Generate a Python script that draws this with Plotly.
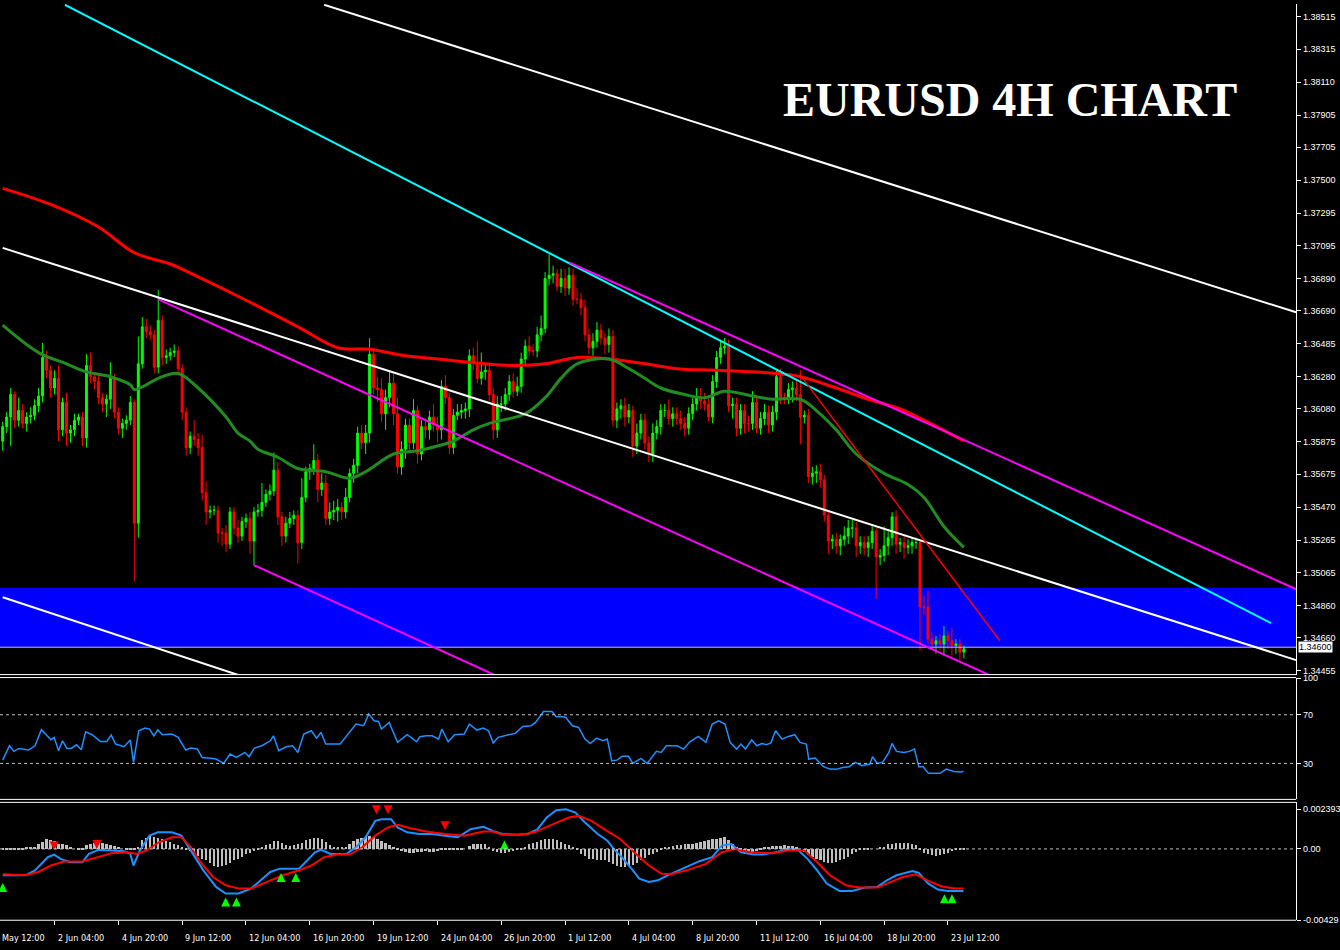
import plotly.graph_objects as go

# ---- candles (EURUSD H4), bar index 0..241 ----
open0 = 1.3588
closes = [
    1.3597, 1.3603, 1.3617, 1.3601, 1.3607, 1.3599, 1.3603, 1.3604, 1.3610, 1.3616,
    1.3640, 1.3632, 1.3621, 1.3627, 1.3595, 1.3612, 1.3593, 1.3595, 1.3601, 1.3603,
    1.3590, 1.3635, 1.3628, 1.3625, 1.3615, 1.3611, 1.3614, 1.3627, 1.3606, 1.3596,
    1.3599, 1.3601, 1.3612, 1.3537, 1.3636, 1.3659, 1.3656, 1.3654, 1.3634, 1.3663,
    1.3640, 1.3641, 1.3643, 1.3644, 1.3633, 1.3606, 1.3584, 1.3591, 1.3589, 1.3584,
    1.3556, 1.3544, 1.3545, 1.3545, 1.3531, 1.3531, 1.3524, 1.3544, 1.3534, 1.3529,
    1.3538, 1.3540,
    1.3526, 1.3544, 1.3545, 1.3550, 1.3555, 1.3557, 1.3570, 1.3541, 1.3529, 1.3537,
    1.3540, 1.3542, 1.3525, 1.3553, 1.3569, 1.3571, 1.3576, 1.3558, 1.3562, 1.3540,
    1.3544, 1.3545, 1.3547, 1.3544, 1.3553, 1.3568, 1.3573, 1.3593, 1.3587, 1.3593,
    1.3642, 1.3621, 1.3620, 1.3605, 1.3615, 1.3624, 1.3605, 1.3572, 1.3583, 1.3598,
    1.3587, 1.3607, 1.3580, 1.3597, 1.3595, 1.3603, 1.3598, 1.3595, 1.3622, 1.3615,
    1.3584, 1.3604, 1.3606, 1.3607, 1.3608, 1.3641, 1.3636, 1.3627, 1.3631, 1.3632,
    1.3617, 1.3595, 1.3611, 1.3611, 1.3617, 1.3625, 1.3619, 1.3622, 1.3639, 1.3647,
    1.3644, 1.3644, 1.3654, 1.3658, 1.3689, 1.3691, 1.3692, 1.3684, 1.3689, 1.3683,
    1.3691, 1.3676, 1.3676, 1.3671, 1.3654, 1.3646, 1.3650, 1.3657, 1.3652, 1.3648,
    1.3653, 1.3601, 1.3608, 1.3610, 1.3603, 1.3607, 1.3585, 1.3593, 1.3601, 1.3587,
    1.3580, 1.3593, 1.3597, 1.3607, 1.3607, 1.3602, 1.3605, 1.3602, 1.3599, 1.3596,
    1.3605, 1.3611, 1.3615, 1.3613, 1.3611, 1.3603, 1.3625, 1.3640, 1.3646, 1.3647,
    1.3610, 1.3611, 1.3596, 1.3607, 1.3599, 1.3599, 1.3612, 1.3596, 1.3602, 1.3606,
    1.3598, 1.3606, 1.3628, 1.3615, 1.3615, 1.3620, 1.3621, 1.3617, 1.3603, 1.3604,
    1.3566, 1.3568, 1.3569, 1.3564, 1.3542, 1.3526, 1.3527, 1.3523, 1.3527, 1.3529,
    1.3534, 1.3534, 1.3523, 1.3525, 1.3522, 1.3525, 1.3532, 1.3516, 1.3517, 1.3523,
    1.3528, 1.3541, 1.3524, 1.3525, 1.3522, 1.3523, 1.3525, 1.3525, 1.3485, 1.3485,
    1.3465, 1.3462, 1.3464, 1.3462, 1.3467, 1.3464, 1.3461, 1.3462, 1.3457, 1.3459,
]
# wick lengths in pips above / below the body
upper_wick = [
    3, 3, 4, 2, 8, 4, 3, 5, 4, 5, 9, 4, 3, 5, 8, 3, 6, 3, 4, 2,
    3, 7, 8, 3, 4, 3, 3, 10, 3, 3, 3, 3, 4, 2, 17, 6, 5, 4, 3, 19,
    3, 4, 3, 4, 3, 3, 3, 3, 10, 4, 8, 7, 3, 3, 3, 3, 5, 3, 3, 5,
    3, 3, 4, 3, 4, 12, 3, 4, 11, 5, 3, 4, 4, 3, 3, 12, 3, 3, 10, 4,
    6, 5, 6, 6, 5, 3, 6, 3, 4, 4, 5, 5, 10, 4, 7, 7, 5, 8, 6, 10,
    5, 4, 4, 7, 3, 4, 5, 4, 8, 5, 4, 7, 3, 4, 5, 4, 4, 4, 5, 14,
    12, 4, 5, 4, 5, 5, 4, 4, 5, 6, 4, 4, 6, 4, 5, 8, 4, 13, 5, 3,
    6, 6, 5, 4, 7, 4, 5, 4, 5, 5, 4, 3, 5, 4, 4, 4, 5, 4, 3, 6,
    4, 4, 4, 6, 4, 4, 4, 7, 4, 4, 5, 4, 4, 4, 6, 6, 5, 4, 4, 4,
    5, 5, 4, 4, 4, 4, 4, 5, 7, 4, 4, 5, 4, 4, 4, 5, 3, 4, 4, 5,
    15, 3, 4, 4, 4, 5, 3, 3, 3, 4, 3, 6, 5, 5, 4, 4, 4, 4, 4, 3,
    4, 12, 4, 3, 4, 3, 5, 4, 3, 3, 2, 7, 10, 4, 3, 4, 6, 3, 8, 3,
    3, 2,
]
lower_wick = [
    6, 4, 18, 5, 4, 3, 5, 4, 3, 4, 4, 5, 6, 4, 7, 4, 8, 6, 4, 3,
    5, 6, 4, 5, 4, 5, 8, 6, 4, 4, 6, 4, 3, 36, 9, 3, 4, 3, 4, 4,
    5, 4, 3, 3, 4, 5, 5, 4, 4, 5, 5, 8, 4, 3, 6, 8, 5, 3, 4, 4,
    3, 4, 8, 15, 3, 4, 3, 4, 3, 5, 6, 4, 3, 4, 13, 4, 3, 5, 4, 8,
    4, 4, 4, 5, 7, 5, 4, 3, 6, 5, 4, 7, 6, 4, 8, 5, 10, 6, 7, 4,
    5, 6, 5, 4, 6, 4, 5, 6, 4, 8, 6, 4, 4, 4, 3, 4, 5, 5, 4, 3,
    4, 5, 4, 6, 5, 5, 4, 4, 4, 3, 4, 4, 3, 3, 4, 4, 3, 4, 5, 3,
    4, 5, 4, 4, 3, 5, 4, 4, 5, 4, 4, 6, 5, 4, 5, 6, 6, 4, 7, 5,
    4, 4, 5, 5, 4, 5, 4, 4, 5, 4, 4, 5, 4, 4, 4, 5, 4, 3, 4, 4,
    4, 4, 4, 8, 5, 4, 6, 5, 4, 3, 4, 4, 5, 4, 5, 4, 4, 4, 8, 4,
    17, 4, 4, 5, 6, 5, 4, 8, 5, 5, 6, 4, 5, 6, 7, 5, 5, 6, 4, 26,
    5, 4, 6, 5, 6, 5, 7, 4, 5, 4, 27, 5, 3, 4, 6, 4, 7, 5, 6, 5,
    5, 4,
]

# ---- moving averages (sampled at bar index) ----
ma_red_idx = [0, 12, 24, 33, 42, 49, 59, 74, 84, 92, 101, 109, 121, 128, 136, 144,
              152, 161, 169, 179, 194, 200, 209, 217, 225, 231, 241]
ma_red = [1.3745, 1.3735, 1.3721, 1.3705, 1.3698, 1.3690, 1.3678, 1.3659, 1.3646,
          1.3645, 1.3641, 1.3639, 1.3636, 1.3635, 1.3636, 1.3640, 1.3639, 1.3636,
          1.3633, 1.3632, 1.3630, 1.3628, 1.3621, 1.3614, 1.3608, 1.3601, 1.3588]
ma_green_idx = [0, 9, 16, 21, 27, 32, 33, 36, 39, 44, 49, 56, 59, 62, 64, 69, 74, 81,
                87, 91, 98, 104, 109, 113, 118, 122, 131, 136, 140, 144, 152, 157,
                161, 165, 171, 176, 181, 188, 193, 200, 204, 209, 214, 221, 227,
                231, 236, 241]
ma_green = [1.3660, 1.3643, 1.3636, 1.3631, 1.3628, 1.3623, 1.3620, 1.3623, 1.3627,
            1.3630, 1.3621, 1.3603, 1.3593, 1.3588, 1.3583, 1.3578, 1.3571, 1.3569,
            1.3565, 1.3569, 1.3580, 1.3582, 1.3585, 1.3588, 1.3595, 1.3599, 1.3605,
            1.3615, 1.3627, 1.3636, 1.3639, 1.3633, 1.3627, 1.3621, 1.3617, 1.3615,
            1.3619, 1.3616, 1.3614, 1.3614, 1.3607, 1.3595, 1.3580, 1.3568, 1.3561,
            1.3553, 1.3535, 1.3522]

# ---- trend lines: (bar1, price1, bar2, price2, colour, width) ----
trend_lines = [
    (80.6, 1.38590, 324.3, 1.36680, "white", 2),
    (15.6, 1.38590, 318.0, 1.34750, "#00ffff", 2),
    (142.0, 1.36990, 324.3, 1.34960, "#ff00ff", 2),
    (0.0, 1.37080, 324.3, 1.34520, "white", 2),
    (39.0, 1.36760, 248.0, 1.34420, "#ff00ff", 2),
    (63.0, 1.35110, 124.0, 1.34420, "#ff00ff", 2),
    (0.0, 1.34910, 60.0, 1.34420, "white", 2),
    (200.6, 1.36270, 250.0, 1.34640, "#ff0000", 1.5),
]
zone_top, zone_bottom = 1.3497, 1.3460
bid_price = 1.34600

main_ticks = [1.38515, 1.38315, 1.38110, 1.37905, 1.37705, 1.37500, 1.37295, 1.37095,
              1.36890, 1.36690, 1.36485, 1.36280, 1.36080, 1.35875, 1.35675, 1.35470,
              1.35265, 1.35065, 1.34860, 1.34660, 1.34455]

# ---- RSI ----
rsi_x = [0, 1.7, 2.8, 4.1, 6.5, 8.1, 9.7, 12.1, 12.9, 14, 15, 16.1, 17.2, 18.5, 19.7,
         20.8, 22.4, 24.5, 26.1, 27.2, 28.3, 30.4, 32, 32.8, 34.1, 35.7, 36.8, 37.9,
         38.9, 40, 42.4, 44, 45.9, 47.2, 48.8, 50, 51.6, 53.5, 55.4, 57, 58.6, 60.7,
         61.8, 63.1, 65, 67.1, 67.9, 69.2, 71.1, 72.7, 74, 75.5, 77.4, 78.7, 79.8, 81,
         84.6, 86.7, 88.6, 90.5, 91.8, 93.1, 94.2, 95, 96.9, 99, 100.1, 101.4, 102.6,
         103.8, 104.6, 106.2, 107.7, 109.3, 110.1, 111.7, 113.3, 115.7, 117, 118.9,
         120.5, 121.8, 123, 124.2, 126.9, 128.5, 130.4, 132.5, 133.6, 135.6, 137.7,
         138.8, 140.4, 141.2, 142.8, 144.4, 146, 147.3, 148.9, 150.5, 151.6, 152.7,
         154, 155.3, 156.9, 158, 160, 161.6, 163.9, 165.1, 166.4, 169.1, 170.7, 172.3,
         174.4, 176.3, 177.9, 179.5, 181.1, 182.4, 184, 185.1, 186.2, 187.8, 189.1,
         190.3, 191.5, 192.6, 193.8, 195.4, 197, 198.6, 199.9, 201.5, 202.1, 203.7,
         205.8, 207.4, 209, 210.6, 212.2, 213.8, 215.4, 217.4, 218.1, 219.3, 220.6,
         222.2, 223, 224.1, 226, 227.3, 228.6, 229.7, 230.8, 232.1, 235, 236.6, 238.5,
         240.4, 240.9]
rsi_y = [32.7, 44.5, 39.9, 42.3, 41.0, 44.5, 57.7, 49.5, 51.4, 40.4, 48.6, 42.3, 42.3,
         45.3, 41.2, 56.0, 53.6, 48.1, 48.1, 53.3, 45.9, 43.7, 49.2, 30.8, 56.9, 59.0,
         58.2, 52.7, 57.7, 53.6, 54.1, 51.4, 41.0, 42.6, 41.8, 34.9, 34.4, 33.6, 30.0,
         37.7, 35.0, 39.0, 35.5, 42.6, 44.5, 48.6, 52.7, 40.4, 43.7, 44.5, 39.0, 54.1,
         56.9, 50.8, 55.5, 45.9, 45.9, 54.7, 62.3, 61.0, 70.6, 65.1, 64.5, 58.2, 63.7,
         47.3, 50.0, 53.6, 50.8, 47.8, 51.9, 52.7, 52.7, 50.0, 58.2, 47.8, 53.6, 54.1,
         62.3, 57.4, 59.0, 56.9, 46.7, 51.4, 53.6, 54.7, 60.4, 61.0, 63.7, 72.7, 72.7,
         68.4, 68.4, 67.8, 60.9, 59.6, 50.0, 46.4, 50.8, 48.6, 50.0, 32.1, 32.7, 35.8,
         35.8, 30.0, 34.1, 30.0, 39.9, 39.0, 44.5, 44.5, 41.8, 47.8, 52.2, 47.3, 62.3,
         65.1, 62.3, 47.3, 41.8, 45.9, 41.8, 49.2, 44.5, 46.4, 45.3, 46.9, 56.9, 50.0,
         52.2, 53.6, 47.3, 45.9, 33.6, 34.4, 27.3, 25.3, 25.1, 26.7, 27.3, 30.8, 28.1,
         29.5, 35.5, 30.0, 30.8, 39.0, 46.4, 39.9, 39.0, 39.9, 41.8, 27.3, 27.3, 21.8,
         21.8, 25.3, 23.4, 22.9, 23.7]

# ---- MACD (values in 1e-4) ----
macd_x = [0, 5.7, 8.1, 11.3, 12.9, 14.5, 16.9, 20.0, 21.6, 24.0, 27.2, 30.4, 32.0, 32.8,
          34.4, 36.8, 38.9, 42.4, 44.8, 47.2, 50.3, 53.5, 55.9, 59.1, 62.3, 64.7, 67.1,
          69.5, 74.3, 75.9, 78.3, 79.8, 82.2, 86.2, 88.6, 91.0, 93.4, 95.0, 97.4, 99.0,
          101.4, 104.5, 107.7, 110.9, 114.1, 117.3, 120.5, 122.9, 125.3, 128.5, 131.7,
          134.1, 136.4, 138.8, 141.2, 143.6, 146.0, 149.2, 151.6, 153.2, 155.6, 158.0,
          159.6, 162.0, 164.3, 166.7, 169.9, 172.3, 174.7, 177.9, 180.3, 182.7, 185.1,
          188.3, 190.7, 193.8, 197.0, 199.4, 201.8, 204.2, 206.6, 209.8, 213.0, 216.2,
          219.3, 221.7, 224.1, 228.1, 229.7, 232.1, 234.5, 236.9, 240.9]
macd_main = [-15.9, -15.9, -12.9, -5.0, -3.4, -6.0, -8.0, -8.0, -3.0, -0.6, -1.0, -1.4,
             -3.0, -10.0, -1.0, 8.0, 10.0, 10.0, 8.0, -1.0, -12.9, -22.9, -26.9, -26.9,
             -23.9, -18.9, -13.9, -11.9, -11.9, -8.0, -2.0, -0.6, -3.0, -3.0, 1.0, 7.0,
             16.9, 17.9, 17.9, 12.9, 10.0, 9.0, 9.0, 8.0, 7.0, 11.9, 13.3, 10.9, 9.0, 8.6,
             9.0, 11.9, 18.9, 23.3, 23.9, 21.9, 15.9, 9.0, 5.0, 0.0, -6.0, -12.9, -17.9,
             -19.9, -18.9, -15.9, -12.5, -10.0, -7.4, -5.0, 2.0, 3.0, -2.0, -3.4, -3.4,
             -2.0, 0.0, -0.6, -6.0, -12.9, -20.9, -25.3, -25.3, -23.3, -22.9, -18.9,
             -15.9, -13.3, -14.5, -20.9, -24.5, -25.3, -25.3]
signal_x = [0, 5.7, 8.9, 12.1, 15.3, 20.0, 23.2, 27.2, 31.2, 33.6, 36.0, 39.2, 42.4,
            44.8, 47.2, 49.6, 52.7, 55.9, 59.1, 62.3, 66.3, 70.3, 74.3, 77.4, 80.6, 83.8,
            87.0, 90.2, 93.4, 96.6, 99.0, 102.2, 106.2, 110.9, 115.7, 120.5, 122.9,
            125.3, 130.1, 133.3, 138.0, 142.0, 144.4, 147.6, 150.8, 154.8, 158.8, 162.0,
            165.1, 167.5, 171.5, 176.3, 180.3, 183.5, 187.5, 193.0, 197.0, 201.0, 204.2,
            207.4, 211.4, 214.6, 219.3, 222.5, 225.7, 228.9, 232.1, 235.3, 238.5, 240.9]
signal = [-15.3, -15.9, -13.9, -10.0, -7.6, -7.6, -5.4, -2.6, -2.0, -3.0, -1.0, 4.0, 7.0,
          7.0, 1.0, -8.0, -16.9, -21.9, -23.9, -23.9, -19.9, -15.9, -12.9, -10.0, -5.0,
          -3.4, -3.4, 1.0, 8.0, 12.9, 14.5, 12.5, 10.5, 9.0, 8.0, 10.5, 10.5, 8.6, 8.6,
          10.0, 14.9, 18.9, 19.9, 16.9, 11.9, 6.0, -3.0, -10.0, -14.9, -15.3, -12.9,
          -9.0, -2.0, 0.0, -2.0, -2.6, -1.0, -1.0, -8.0, -15.9, -21.9, -23.3, -23.3,
          -19.9, -16.9, -15.3, -19.3, -22.5, -23.9, -23.9]
osma = [
    -1.0, -1.0, -1.0, -0.8, -0.6, -0.4, 0.4, 0.8, 1.0, 2.5, 4.0, 6.0, 5.0, 4.5, 3.0, 2.5,
    2.0, 0.5, 0.0, -0.5, -1.0, 2.0, 3.0, 3.6, 3.6, 3.4, 2.5, 2.0, 1.5, 0.5, 0.0, -0.5,
    -1.0, -1.0, 1.0, 5.0, 6.5, 7.4, 7.0, 6.2, 5.5, 4.5, 4.0, 3.0, 2.0, 0.5, -0.5, -1.5,
    -3.0, -4.5, -6.0, -7.0, -9.0, -10.5, -11.0, -10.5, -10.0, -8.5, -7.0, -6.0, -5.0, -3.5,
    -2.5, -1.5, -0.5, 1.0, 2.0, 3.0, 4.5, 4.5, 3.5, 2.0, 1.5, 2.0, 2.5, 3.5, 5.0, 6.0,
    6.6, 6.4, 5.5, 4.0, 2.0, 1.0, 0.5, 0.5, 1.0, 3.0, 4.5, 5.5, 6.5, 7.0, 7.4, 7.0,
    6.0, 4.5, 3.5, 2.0, 0.5, -1.0, -1.5, -2.0, -2.5, -2.5, -2.0, -2.0, -1.5, -2.0, -2.0, -1.5,
    -1.0, -0.5, -1.0, -1.0, -0.5, -0.5, 0.0, 1.5, 2.5, 2.8, 2.8, 2.5, 1.0, -1.5, -2.0, -2.5,
    -2.5, -2.0, -1.5, -1.0, -0.5, 1.0, 2.5, 3.5, 4.0, 5.0, 6.0, 6.0, 5.5, 5.0, 4.0, 3.0,
    2.0, 1.0, -0.5, -3.0, -4.5, -6.0, -6.5, -7.0, -7.0, -7.0, -8.0, -9.5, -10.5, -11.0, -11.0, -10.5,
    -10.0, -8.5, -7.0, -5.5, -4.0, -3.0, -2.0, -0.5, 0.5, 1.0, 1.5, 2.0, 2.0, 2.5, 3.0, 3.0,
    3.5, 4.0, 4.5, 5.0, 5.5, 6.0, 6.5, 7.0, 5.0, 3.0, 1.0, -1.0, -2.0, -2.0, -2.0, -1.5,
    -1.0, 0.5, 1.0, 1.5, 1.5, 1.5, 2.0, 1.5, 1.5, 1.0, 0.0, -2.0, -4.0, -5.0, -6.0, -7.0,
    -8.0, -9.0, -9.0, -8.0, -7.0, -6.0, -5.0, -3.5, -2.0, -1.0, -0.5, -0.5, 0.0, 0.0, 0.5, 1.0,
    2.5, 3.0, 3.5, 3.5, 3.5, 3.5, 3.0, 2.0, -1.0, -2.5, -3.5, -4.0, -4.5, -4.0, -3.5, -2.5,
    -1.5, -1.0, -0.5, -0.5,
]
sell_x = [12.9, 23.6, 93.7, 96.6, 110.9]
sell_y = [-1.0, 0.0, 20.9, 20.9, 11.3]
buy_x = [0.0, 55.9, 58.6, 69.8, 73.5, 125.8, 236.1, 238.0]
buy_y = [-20.5, -29.3, -29.3, -14.5, -14.5, 5.0, -27.3, -27.3]

tick_bars = [13, 29, 45, 61, 77, 93, 109, 125, 141, 157, 173, 189, 205, 221, 237]
tick_text = ["2 Jun 04:00", "4 Jun 20:00", "9 Jun 12:00", "12 Jun 04:00", "16 Jun 20:00",
             "19 Jun 12:00", "24 Jun 04:00", "26 Jun 20:00", "1 Jul 12:00", "4 Jul 04:00",
             "8 Jul 20:00", "11 Jul 12:00", "16 Jul 04:00", "18 Jul 20:00", "23 Jul 12:00"]

# ---- build ----
bars = list(range(len(closes)))
opens = [open0] + closes[:-1]
highs = [max(o, c) + u * 1e-4 for o, c, u in zip(opens, closes, upper_wick)]
lows = [min(o, c) - d * 1e-4 for o, c, d in zip(opens, closes, lower_wick)]

W, H = 1340, 950
XR = 1300 / W
def py(pix):  # pixel row -> paper y
    return 1 - pix / H

fig = go.Figure()
fig.add_trace(go.Candlestick(
    x=bars, open=opens, high=highs, low=lows, close=closes,
    increasing=dict(line=dict(color="#00ff00", width=1), fillcolor="#00ff00"),
    decreasing=dict(line=dict(color="#ff0000", width=1), fillcolor="#ff0000"),
    whiskerwidth=0, xaxis="x", yaxis="y", hoverinfo="skip"))
fig.add_trace(go.Scatter(x=ma_red_idx, y=ma_red, mode="lines", line=dict(color="#ff0000", width=3, shape="spline"),
                         xaxis="x", yaxis="y"))
fig.add_trace(go.Scatter(x=ma_green_idx, y=ma_green, mode="lines", line=dict(color="#228b22", width=3, shape="spline"),
                         xaxis="x", yaxis="y"))

fig.add_trace(go.Scatter(x=rsi_x, y=rsi_y, mode="lines", line=dict(color="#1e90ff", width=1.5),
                         xaxis="x2", yaxis="y2"))

fig.add_trace(go.Bar(x=bars, y=[v * 1e-4 for v in osma], marker=dict(color="#c0c0c0", line=dict(width=0)),
                     width=0.6, xaxis="x3", yaxis="y3"))
fig.add_trace(go.Scatter(x=macd_x, y=[v * 1e-4 for v in macd_main], mode="lines",
                         line=dict(color="#1e90ff", width=2), xaxis="x3", yaxis="y3"))
fig.add_trace(go.Scatter(x=signal_x, y=[v * 1e-4 for v in signal], mode="lines",
                         line=dict(color="#ff0000", width=2), xaxis="x3", yaxis="y3"))
fig.add_trace(go.Scatter(x=sell_x, y=[v * 1e-4 for v in sell_y], mode="markers",
                         marker=dict(symbol="arrow-down", size=9, color="#ff0000"), xaxis="x3", yaxis="y3"))
fig.add_trace(go.Scatter(x=buy_x, y=[v * 1e-4 for v in buy_y], mode="markers",
                         marker=dict(symbol="arrow-up", size=9, color="#00ff00"), xaxis="x3", yaxis="y3"))

shapes = [dict(type="rect", xref="x domain", yref="y", x0=0, x1=1, y0=zone_bottom, y1=zone_top,
               fillcolor="#0000ff", line=dict(width=0), layer="below")]
shapes.append(dict(type="line", xref="x domain", yref="y", x0=0, x1=1, y0=bid_price, y1=bid_price,
                   line=dict(color="#c0c0c0", width=1)))
for x0, y0, x1, y1, col, w in trend_lines:
    shapes.append(dict(type="line", xref="x", yref="y", x0=x0, y0=y0, x1=x1, y1=y1,
                       line=dict(color=col, width=w)))
for lvl in (70, 30):
    shapes.append(dict(type="line", xref="x2 domain", yref="y2", x0=0, x1=1, y0=lvl, y1=lvl,
                       line=dict(color="#c0c0c0", width=1, dash="dot")))
shapes.append(dict(type="line", xref="x3 domain", yref="y3", x0=0, x1=1, y0=0, y1=0,
                   line=dict(color="#c0c0c0", width=1, dash="dot")))
for pix in (677, 680, 803, 806, 925):
    shapes.append(dict(type="line", xref="paper", yref="paper", x0=0, x1=XR, y0=py(pix), y1=py(pix),
                       line=dict(color="white", width=1)))

label_font = dict(family="DejaVu Sans Condensed", size=9, color="white")
ann = [dict(text="<b>EURUSD 4H CHART</b>", xref="paper", yref="paper", x=1013 / W, y=py(96),
            xanchor="center", yanchor="middle",
            showarrow=False, font=dict(family="Liberation Serif", size=48, color="white")),
       dict(text="1.34600", xref="paper", yref="y", x=XR + 0.0015, y=bid_price, xanchor="left",
            yanchor="middle", showarrow=False, bgcolor="white",
            font=dict(family="Liberation Sans", size=9, color="black"), borderpad=0)]
ann.append(dict(text="May 12:00", xref="x3", yref="paper", x=-0.6, y=py(943), xanchor="left",
                yanchor="middle", showarrow=False, font=label_font))
for b, t in zip(tick_bars, tick_text):
    ann.append(dict(text=t, xref="x3", yref="paper", x=b + 0.3, y=py(943), xanchor="left",
                    yanchor="middle", showarrow=False, font=label_font))

xr = [-0.675, 324.3]
axis_font = dict(family="Liberation Sans", size=9, color="white")
yax = dict(side="right", showgrid=False, zeroline=False, ticks="outside", ticklen=4, tickcolor="white",
           showline=True, linecolor="white", tickfont=axis_font)
xax = dict(range=xr, domain=[0, XR], showgrid=False, zeroline=False, showticklabels=False)

fig.update_layout(
    width=W, height=H, autosize=False, margin=dict(l=0, r=0, t=0, b=0),
    paper_bgcolor="black", plot_bgcolor="black", showlegend=False, bargap=0,
    xaxis=dict(**xax, anchor="y", rangeslider=dict(visible=False)),
    xaxis2=dict(**xax, anchor="y2", matches="x"),
    xaxis3=dict(**xax, anchor="y3", matches="x", ticks="outside", ticklen=4, tickcolor="white",
                tickvals=[-3] + tick_bars),
    yaxis=dict(**yax, anchor="x", domain=[py(677), 1], range=[1.34430, 1.38595],
               tickvals=main_ticks, ticktext=[f"{v:.5f}" for v in main_ticks]),
    yaxis2=dict(**yax, anchor="x2", domain=[py(803), py(680)], range=[0.4, 100.6],
                tickvals=[100, 70, 30, 0]),
    yaxis3=dict(**yax, anchor="x3", domain=[py(925), py(806)], range=[-0.004298, 0.002806],
                tickvals=[0.002393, 0, -0.00429], ticktext=["0.002393", "0.00", "-0.00429"]),
    shapes=shapes, annotations=ann,
)
fig.write_html("out.html", config={"displayModeBar": False},
               post_script="document.body.style.margin='0';")
